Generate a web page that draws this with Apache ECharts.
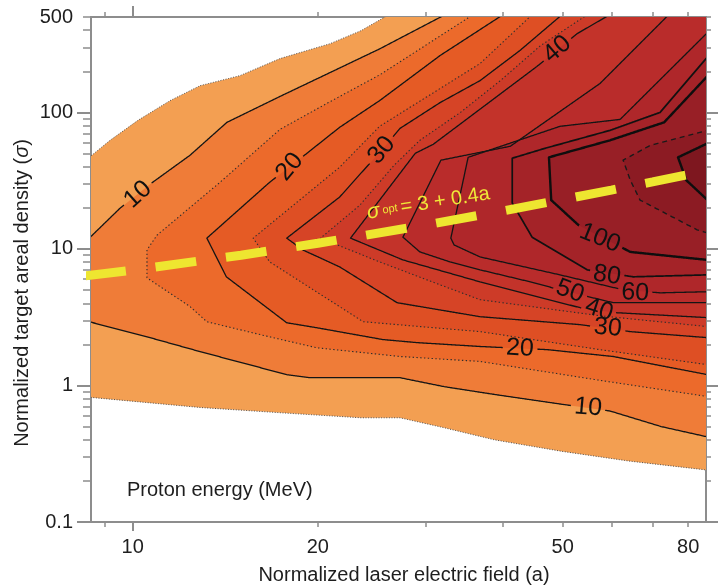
<!DOCTYPE html>
<html>
<head>
<meta charset="utf-8">
<script src="https://cdn.jsdelivr.net/npm/echarts@6.0.0/dist/echarts.min.js"></script>
<style>
html,body{margin:0;padding:0;background:#fff;}
#chart{width:722px;height:585px;}
</style>
</head>
<body>
<div id="chart"></div>
<script>
// ---------- axis ranges and ticks ----------
const xRange = [8.556, 85.5];
const yRange = [0.1, 500];
const xTickLabels = [10, 20, 50, 80];
const xMajorTicks = [10];
const xMinorTicks = [9, 20, 30, 40, 50, 60, 70, 80];
const yTickLabels = [0.1, 1, 10, 100, 500];
const yMajorTicks = [0.1, 1, 10, 100];
const yMinorTicks = [0.2,0.3,0.4,0.5,0.6,0.7,0.8,0.9,2,3,4,5,6,7,8,9,20,30,40,50,60,70,80,90,200,300,400,500];

// ---------- contour lines, points [a, sigma] ----------
const c5Top = [[8.5,46.9],[9.19,62.5],[10.2,87.5],[11.5,122],[12.87,157],[14.94,186],[17.36,248],[20.94,319],[23.5,397],[25.8,505]];
const c5Bottom = [[86,0.24],[63.9,0.28],[49.7,0.33],[38.7,0.40],[32.1,0.49],[27.2,0.58],[23.5,0.58],[18.0,0.625],[12.87,0.69],[8.5,0.82]];
const c10Top = [[8.5,12.0],[9.54,19.9],[10.67,29.8],[12.39,48.5],[14.23,84.6],[17.36,131],[20.94,196],[25.24,293],[31.8,505]];
const c10Bottom = [[86,0.42],[72.3,0.50],[59.7,0.65],[49.7,0.73],[38.7,0.86],[32.1,0.98],[27.2,1.14],[19.4,1.14],[17.8,1.2],[12.87,1.77],[10.67,2.24],[8.5,2.93]];
const c15 = [[86,0.83],[57.5,1.09],[36.7,1.50],[27.2,1.63],[19.9,1.89],[16.1,2.36],[13.2,2.93],[12.4,3.78],[10.55,6.14],[10.55,9.84],[10.95,12.6],[13.87,30.8],[17.36,75.2],[20.94,120],[25.24,189],[35.4,505]];
const c20 = [[86,1.20],[60.4,1.63],[47.2,1.83],[36.7,1.93],[29.0,2.06],[25.5,2.17],[19.9,2.65],[17.8,2.88],[14.2,6.25],[13.2,12.0],[16.7,30.8],[19.2,50.2],[21.7,77.8],[25.2,122],[31.6,261],[39.6,505]];
const c25 = [[86,1.42],[57.5,1.83],[36.7,2.48],[23.7,2.93],[16.7,8.04],[15.7,12.0],[21.7,39.7],[25.2,79.1],[36.7,228],[44.3,505]];
const c30 = [[86,2.24],[64.4,2.48],[53.4,2.79],[36.7,3.19],[26.9,4.04],[21.7,7.39],[18.9,9.84],[17.8,12.0],[21.7,24.0],[23.5,35.9],[25.4,52.8],[27.2,76.4],[31.6,118],[36.7,171],[42.6,284],[49.5,505]];
const c35 = [[86,2.70],[57.5,3.24],[36.7,4.25],[31.6,5.46],[25.2,8.04],[20.2,12.0],[23.4,20.9],[26.6,41.0],[29.3,62.5],[34.1,100],[39.6,171],[46.0,308],[54.3,505]];
const c40 = [[86,3.14],[61.3,3.41],[53.4,3.71],[36.7,5.74],[27.5,8.31],[22.6,12.0],[28.8,50.2],[30.8,58.4],[45.4,217],[52.8,378],[59.0,505]];
const c50 = [[86,4.04],[60.4,4.04],[49.5,5.02],[44.3,5.74],[36.7,7.03],[32.8,8.04],[29.3,9.51],[27.5,12.2],[31.7,44.7],[41.1,56.5],[57.5,163],[73.9,505]];
const c60 = [[86,4.86],[72.0,4.77],[62.7,5.02],[49.5,6.46],[36.7,8.74],[33.3,10.7],[32.9,12.0],[35.1,46.9],[49.5,79.1],[62.0,88.9],[86,385]];
const c80 = [[86,6.46],[65.1,6.25],[54.8,7.03],[44.6,12.2],[41.4,21.7],[41.4,46.2],[46.8,54.6],[59.7,73.9],[72.0,100],[86,255]];
const c100 = [[86,8.31],[64.4,9.51],[53.0,15.0],[47.9,22.8],[47.5,46.9],[59.7,62.5],[73.1,84.6],[86,185]];
const cDashed = [[86,13.1],[82.7,13.8],[66.8,22.8],[64.4,31.9],[62.7,44.7],[69.4,57.4],[86,73.9]];
const cInner = [[86,22.8],[79.4,31.9],[77.0,46.9],[86,59.4]];

// ---------- sigma_opt line ----------
const optA = [8.37, 10, 15, 20, 30, 40, 50, 60, 70, 80, 85.5];
const optSigma = [6.35, 7.0, 9.0, 11.0, 15.0, 19.0, 23.0, 27.0, 31.0, 35.0, 37.2];

// ---------- contour labels ----------
const labelText = ['10','20','30','40','100','80','60','50','40','30','20','10'];
const labelA = [10.2, 18.0, 25.4, 49.0, 57.5, 59.0, 65.6, 51.4, 57.3, 59.2, 42.6, 55.0];
const labelSigma = [25, 39.9, 52.8, 290, 12, 6.4, 4.77, 4.9, 3.58, 2.64, 1.87, 0.69];
const labelLevel = [10, 20, 30, 40, 100, 80, 60, 50, 40, 30, 20, 10];

// ================= rendering =================
const FONT = '"Liberation Sans", Arial, Helvetica, sans-serif';
const labelAngle = [42, 50, 50, 40, -22, -8, -3, -20, -18, -5, -3, -5];
const L = v => Math.log10(v);
const toXY = p => [L(p[0]), L(p[1])];
const CORNER = [90, 600];

const contours = [
  {level:5,   parts:[c5Bottom, c5Top],   closeTop:true,  fill:'#F39F52', kind:'edge'},
  {level:10,  parts:[c10Bottom, c10Top], closeTop:true,  fill:'#EF7C38', kind:'solid'},
  {level:15,  parts:[c15],  closeTop:true,  fill:'#EC6A2B', kind:'dot'},
  {level:20,  parts:[c20],  closeTop:true,  fill:'#E55B25', kind:'solid'},
  {level:25,  parts:[c25],  closeTop:true,  fill:'#DE4F24', kind:'dot'},
  {level:30,  parts:[c30],  closeTop:true,  fill:'#D64426', kind:'solid'},
  {level:35,  parts:[c35],  closeTop:true,  fill:'#CD3B28', kind:'dot'},
  {level:40,  parts:[c40],  closeTop:true,  fill:'#C3332A', kind:'solid'},
  {level:50,  parts:[c50],  closeTop:true,  fill:'#B92C2B', kind:'solid'},
  {level:60,  parts:[c60],  closeTop:false, fill:'#AF272A', kind:'solid'},
  {level:80,  parts:[c80],  closeTop:false, fill:'#A42328', kind:'mid'},
  {level:100, parts:[c100], closeTop:false, fill:'#981F26', kind:'thick'},
  {level:120, parts:[cDashed], closeTop:false, fill:'#8C1B23', kind:'dash'},
  {level:140, parts:[cInner],  closeTop:false, fill:'#7E171F', kind:'thick'}
];

const fillPolys = contours.map(c => {
  const pts = [].concat(...c.parts);
  if (c.closeTop) pts.push(CORNER);
  return pts;
});

const lineStyles = {
  edge:  {stroke:'#4a4a4a', lineWidth:1,   lineDash:[1,1.6]},
  dot:   {stroke:'#2e2e2e', lineWidth:1.1, lineDash:[1.4,2.4]},
  solid: {stroke:'#151515', lineWidth:1.3, lineDash:null},
  mid:   {stroke:'#111111', lineWidth:1.7, lineDash:null},
  thick: {stroke:'#0e0e0e', lineWidth:2.4, lineDash:null},
  dash:  {stroke:'#1a1a1a', lineWidth:1.4, lineDash:[5,4]}
};
const lineParts = [];
contours.forEach(c => c.parts.forEach(p => lineParts.push({pts:p, level:c.level, kind:c.kind})));

function gapped(px, gaps) {
  const out = []; let cur = [];
  for (let i = 0; i < px.length - 1; i++) {
    const p = px[i], q = px[i+1];
    const len = Math.hypot(q[0]-p[0], q[1]-p[1]);
    const n = Math.max(1, Math.ceil(len));
    for (let k = (i === 0 ? 0 : 1); k <= n; k++) {
      const t = k / n;
      const x = p[0] + (q[0]-p[0]) * t, y = p[1] + (q[1]-p[1]) * t;
      const hidden = gaps.some(g => Math.hypot(x-g.x, y-g.y) < g.r);
      if (hidden) { if (cur.length > 1) out.push(cur); cur = []; }
      else cur.push([x, y]);
    }
  }
  if (cur.length > 1) out.push(cur);
  return out;
}

const axisGray = '#8d8d8d';
const xmin = L(xRange[0]), xmax = L(xRange[1]);
const ymin = L(yRange[0]), ymax = L(yRange[1]);
const xFmt = v => String(Math.round(Math.pow(10, v)));
const yFmt = v => { const n = Math.pow(10, v); return n < 0.99 ? n.toFixed(1) : String(Math.round(n)); };

function axis(pos, min, max, ticks, len, width, labels, fmt, margin, line) {
  return {
    type:'value', position:pos, min:min, max:max,
    axisLine:{show:line, onZero:false, lineStyle:{color:axisGray, width:2}},
    axisTick:{show:true, inside:false, customValues:ticks.map(L), length:len, lineStyle:{color:axisGray, width:width}},
    axisLabel:labels ? {show:true, customValues:labels.map(L), formatter:fmt, margin:margin, color:'#1e1e1e', fontSize:20, fontFamily:FONT} : {show:false},
    splitLine:{show:false}
  };
}

const chart = echarts.init(document.getElementById('chart'), null, {renderer:'canvas'});
chart.setOption({
  animation:false,
  backgroundColor:'#fff',
  grid:{left:91, top:17, width:615, height:505, outerBoundsMode:'none', containLabel:false},
  xAxis:[
    axis('bottom', xmin, xmax, xMajorTicks, 9, 2, xTickLabels, xFmt, 15, true),
    axis('bottom', xmin, xmax, xMinorTicks, 5, 1.5, null, null, 0, false),
    axis('top', xmin, xmax, xMajorTicks, 11, 2, null, null, 0, true),
    axis('top', xmin, xmax, xMinorTicks, 5, 1.5, null, null, 0, false)
  ],
  yAxis:[
    axis('left', ymin, ymax, yMajorTicks, 14, 2, yTickLabels, yFmt, 18, true),
    axis('left', ymin, ymax, yMinorTicks, 8, 1.5, null, null, 0, false),
    axis('right', ymin, ymax, yMajorTicks, 12, 2, null, null, 0, true),
    axis('right', ymin, ymax, yMinorTicks, 5, 1.5, null, null, 0, false)
  ],
  graphic:[
    {type:'text', x:404, y:575, silent:true, style:{text:'Normalized laser electric field (a)', font:'20px '+FONT, fill:'#1e1e1e', align:'center', textAlign:'center', verticalAlign:'middle', textVerticalAlign:'middle'}},
    {type:'text', x:22, y:293, rotation:Math.PI/2, silent:true, style:{text:'{n|Normalized target areal density (}{i|σ}{n|)}', rich:{n:{fontSize:20, fontFamily:FONT, fill:'#1e1e1e'}, i:{fontSize:20, fontFamily:FONT, fontStyle:'italic', fill:'#1e1e1e'}}, align:'center', textAlign:'center', verticalAlign:'middle', textVerticalAlign:'middle'}},
    {type:'text', x:127, y:490, silent:true, style:{text:'Proton energy (MeV)', font:'20px '+FONT, fill:'#1e1e1e', align:'left', textAlign:'left', verticalAlign:'middle', textVerticalAlign:'middle'}},
    {type:'text', x:367, y:213, rotation:0.157, z:100, silent:true, style:{text:'{s|σ}{o| opt }{t|= 3 + 0.4a}', rich:{
        s:{fontSize:21, fontStyle:'italic', fontFamily:FONT, fill:'#F0E838'},
        o:{fontSize:11, fontFamily:FONT, fill:'#F0E838'},
        t:{fontSize:20, fontFamily:FONT, fill:'#F0E838'}}, align:'left', textAlign:'left', verticalAlign:'middle', textVerticalAlign:'middle'}}
  ],
  series:[
    {
      type:'custom', name:'fills', xAxisIndex:0, yAxisIndex:0, clip:true, silent:true, z:1,
      data: fillPolys.map((p, i) => [1.3, 0, i]),
      renderItem:(params, api) => {
        const pts = fillPolys[params.dataIndex].map(p => api.coord(toXY(p)));
        return {type:'polygon', shape:{points:pts}, style:{fill:contours[params.dataIndex].fill, stroke:null}};
      }
    },
    {
      type:'custom', name:'contours', xAxisIndex:0, yAxisIndex:0, clip:true, silent:true, z:2,
      data: lineParts.map((p, i) => [1.3, 0, i]),
      renderItem:(params, api) => {
        const part = lineParts[params.dataIndex];
        const px = part.pts.map(p => api.coord(toXY(p)));
        const gaps = [];
        labelText.forEach((t, i) => {
          if (labelLevel[i] === part.level) {
            const c = api.coord([L(labelA[i]), L(labelSigma[i])]);
            gaps.push({x:c[0], y:c[1], r:t.length * 7 + 3});
          }
        });
        const st = lineStyles[part.kind];
        return {type:'group', children: gapped(px, gaps).map(r => ({
          type:'polyline', shape:{points:r},
          style:{stroke:st.stroke, lineWidth:st.lineWidth, lineDash:st.lineDash, fill:null, lineJoin:'round'}
        }))};
      }
    },
    {
      type:'line', name:'sigma_opt', xAxisIndex:0, yAxisIndex:0, clip:false, silent:true, z:5,
      data: optA.map((a, i) => [L(a), L(optSigma[i])]),
      showSymbol:false, symbol:'none', smooth:false,
      lineStyle:{color:'#EEE630', width:9, type:[41, 30], cap:'butt'}
    },
    {
      type:'custom', name:'labels', xAxisIndex:0, yAxisIndex:0, clip:false, silent:true, z:6,
      data: labelText.map((t, i) => [L(labelA[i]), L(labelSigma[i]), i]),
      renderItem:(params, api) => {
        const i = params.dataIndex;
        const c = api.coord([L(labelA[i]), L(labelSigma[i])]);
        return {type:'text', x:c[0], y:c[1], rotation:labelAngle[i] * Math.PI / 180,
          style:{text:labelText[i], font:'25px '+FONT, fill:'#111', align:'center', textAlign:'center', verticalAlign:'middle', textVerticalAlign:'middle'}};
      }
    }
  ]
});
</script>
</body>
</html>
